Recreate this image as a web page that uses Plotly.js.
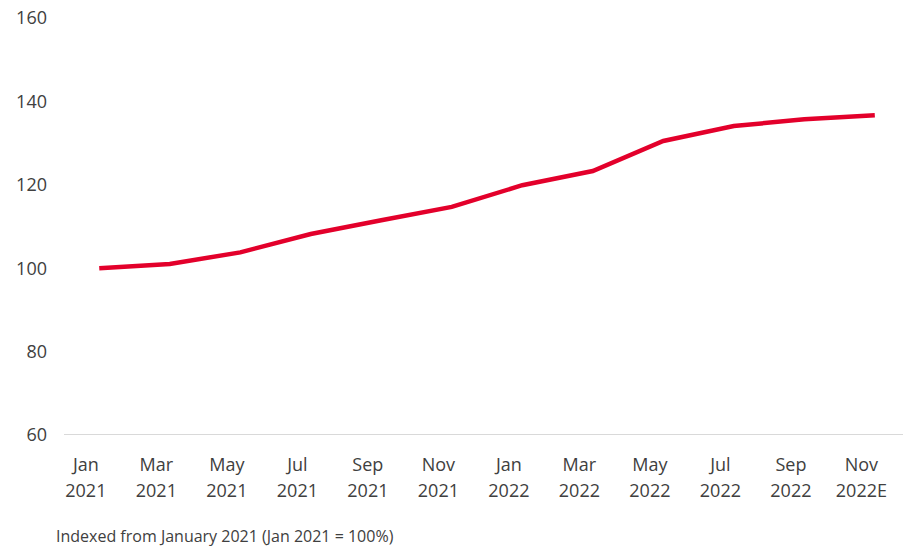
<!DOCTYPE html>
<html>
<head>
<meta charset="utf-8">
<script src="https://cdn.plot.ly/plotly-3.0.1.min.js"></script>
<style>html,body{margin:0;padding:0;background:#fff;}#chart{width:911px;height:552px;}</style>
</head>
<body>
<div id="chart"></div>
<script>
const months = ["Jan","Mar","May","Jul","Sep","Nov","Jan","Mar","May","Jul","Sep","Nov"];
const years = ["2021","2021","2021","2021","2021","2021","2022","2022","2022","2022","2022","2022E"];
const indexValues = [100.0, 101.0, 103.8, 108.2, 111.5, 114.7, 119.9, 123.3, 130.5, 134.1, 135.7, 136.7];
const yTicks = [60, 80, 100, 120, 140, 160];
const footnote = "Indexed from January 2021 (Jan 2021 = 100%)";

const xs = indexValues.map((_, i) => i);
const tickPos = xs.map(i => i - 0.19);

const FONT = "Open Sans, Noto Sans, sans-serif";
const TXT = "#404040";

const baseX = {
  range: [-0.5, 11.4],
  tickvals: tickPos,
  showgrid: false,
  zeroline: false,
  showline: false,
  ticks: "",
  tickfont: {family: FONT, size: 18, color: TXT}
};

Plotly.newPlot("chart", [{
  x: xs,
  y: indexValues,
  type: "scatter",
  mode: "lines",
  line: {color: "#E3002B", width: 4.5, shape: "linear"},
  hoverinfo: "skip"
}, {
  x: xs,
  y: indexValues,
  xaxis: "x2",
  type: "scatter",
  mode: "lines",
  line: {color: "rgba(0,0,0,0)", width: 0},
  hoverinfo: "skip"
}], {
  width: 911, height: 552,
  margin: {l: 64, r: 8, t: 18, b: 117},
  paper_bgcolor: "#fff", plot_bgcolor: "#fff",
  showlegend: false,
  font: {family: FONT, color: TXT, size: 18},
  xaxis: Object.assign({}, baseX, {ticktext: months, ticklabelstandoff: 17}),
  xaxis2: Object.assign({}, baseX, {ticktext: years, ticklabelstandoff: 43, overlaying: "x", side: "bottom", anchor: "y"}),
  yaxis: {
    range: [60, 160],
    tickvals: yTicks,
    showgrid: false,
    zeroline: false,
    showline: false,
    ticks: "",
    ticklabelstandoff: 16,
    tickfont: {family: FONT, size: 18, color: TXT}
  },
  shapes: [{
    type: "line", xref: "paper", yref: "y",
    x0: 0, x1: 1, y0: 60, y1: 60,
    line: {color: "#d9d9d9", width: 2}
  }],
  annotations: [{
    text: footnote,
    xref: "paper", yref: "paper",
    x: -0.0125, y: -0.243,
    xanchor: "left", yanchor: "middle",
    showarrow: false,
    font: {family: FONT, size: 16, color: TXT}
  }]
}, {displayModeBar: false, staticPlot: true});
</script>
</body>
</html>
